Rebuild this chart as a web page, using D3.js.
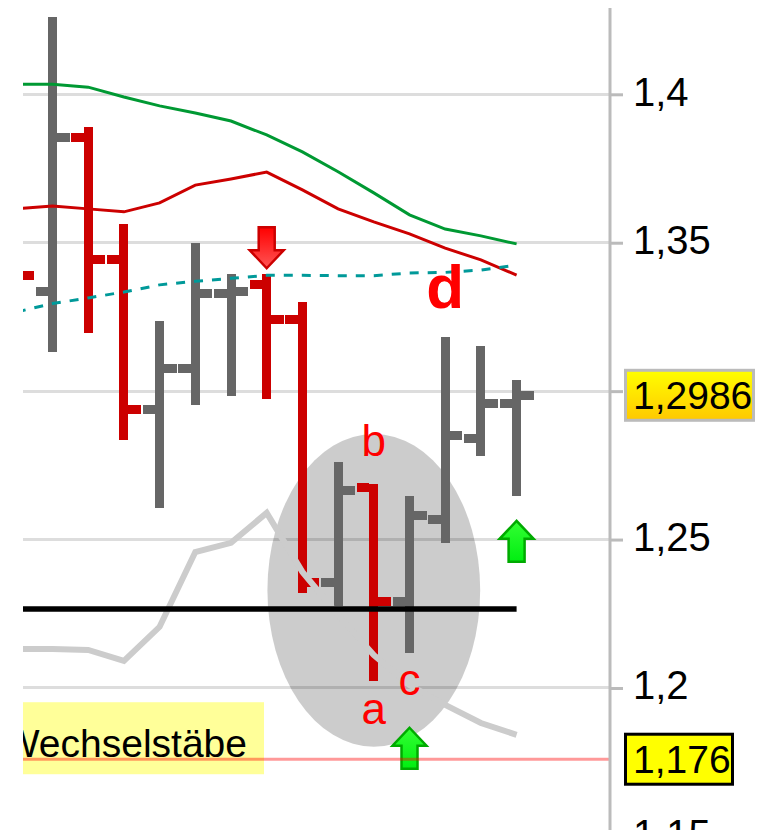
<!DOCTYPE html>
<html>
<head>
<meta charset="utf-8">
<script src="https://cdn.jsdelivr.net/npm/d3@7"></script>
<style>
    html, body { margin: 0; padding: 0; background: #fff; }
    svg { display: block; }
</style>
</head>
<body>
<div id="chart"></div>
<script>
// Bar index, the first bar is cut by the left edge of the plot
const days = d3.range(15)

// OHLC values of the daily bars
const open = [1.35, 1.3337, 1.3853, 1.3442, 1.2937, 1.3075, 1.3328, 1.3358, 1.324, 1.2357, 1.2674, 1.2293, 1.2569, 1.2842, 1.2957]
const high = [1.36, 1.426, 1.389, 1.3563, 1.3237, 1.3499, 1.3395, 1.3395, 1.33, 1.2761, 1.2687, 1.2647, 1.3182, 1.3152, 1.3037]
const low = [1.33, 1.3132, 1.3196, 1.2836, 1.2607, 1.2954, 1.2984, 1.2974, 1.232, 1.2276, 1.2024, 1.2118, 1.2488, 1.2781, 1.2647]
const close = [1.3391, 1.3853, 1.3442, 1.2937, 1.3075, 1.3328, 1.3337, 1.3243, 1.2357, 1.2664, 1.2293, 1.258, 1.2852, 1.2957, 1.2986]

// Indicator lines
const greenLine = [1.4034, 1.4034, 1.4024, 1.3991, 1.3961, 1.3937, 1.391, 1.3863, 1.3806, 1.3739, 1.3668, 1.3594, 1.3546, 1.3523, 1.3496]
const redLine = [1.3614, 1.3624, 1.3614, 1.3604, 1.3634, 1.3694, 1.3715, 1.3738, 1.3678, 1.3614, 1.357, 1.353, 1.3482, 1.3442, 1.3391]
const tealLine = [1.3267, 1.3295, 1.3314, 1.3334, 1.3358, 1.337, 1.338, 1.339, 1.339, 1.3389, 1.3389, 1.3398, 1.34, 1.3408, 1.3425]
const greyLine = [1.2131, 1.2131, 1.2128, 1.2091, 1.2206, 1.2458, 1.2489, 1.259, 1.2391, 1.2246, 1.2111, 1.201, 1.1943, 1.1882, 1.1842]

// Horizontal levels
const supportLevel = 1.2266
const markerLevel = 1.176
const markerName = 'Wechselstäbe'
const lastPrice = close[close.length - 1]

// Value axis ticks
const yTicks = [1.15, 1.2, 1.25, 1.3, 1.35, 1.4]

// Annotations: signal arrows and wave letters
const arrows = [
    { i: 7, value: 1.3414, dir: 'down' },
    { i: 11, value: 1.1866, dir: 'up' },
    { i: 14, value: 1.2563, dir: 'up' },
]
const letters = [
    { text: 'd', i: 12, value: 1.328, bold: true },
    { text: 'b', i: 10, value: 1.2782, bold: false },
    { text: 'c', i: 11, value: 1.1977, bold: false },
    { text: 'a', i: 10, value: 1.1879, bold: false },
]
// Grey ellipse round the a-b-c correction
const zone = { i: 10, value: 1.2329, halfBars: 2.98, halfValue: 0.0527 }

const config = {
    w: 761,
    h: 830,
    plot: { left: 23, right: 610, top: 8, bottom: 830 },
    barWidth: 9,
    tickLength: 12.5,
    font: '"Liberation Sans", Arial, sans-serif',
}

const svg = d3
    .select('#chart')
    .append('svg')
    .attr('width', config.w)
    .attr('height', config.h)

const x = d3.scaleLinear().domain([0, 14]).range([16.8, 516.6])
const y = d3.scaleLinear().domain([1.15, 1.4]).range([836.4, 94.3])

const locale = d3.formatLocale({ decimal: ',', thousands: '.', grouping: [3], currency: ['', ' €'] })
const priceFormat = locale.format('.4~f')
// tick labels under a price box are not shown
const tickFormat = (d) =>
    Math.abs(y(d) - y(lastPrice)) < 26 || Math.abs(y(d) - y(markerLevel)) < 26
        ? ''
        : locale.format('.2~f')(d)

// Gradients
const defs = svg.append('defs')
const gradient = (id, top, bottom) => {
    const g = defs
        .append('linearGradient')
        .attr('id', id)
        .attr('x1', 0)
        .attr('y1', 0)
        .attr('x2', 0)
        .attr('y2', 1)
    g.append('stop').attr('offset', '0%').attr('stop-color', top)
    g.append('stop').attr('offset', '100%').attr('stop-color', bottom)
}
gradient('price-fill', '#ffff00', '#ffc800')
gradient('red-arrow', '#ff5555', '#ff0000')
gradient('green-arrow', '#33ff33', '#00ee11')

defs.append('clipPath')
    .attr('id', 'plot-area')
    .append('rect')
    .attr('x', config.plot.left)
    .attr('y', config.plot.top)
    .attr('width', config.plot.right - config.plot.left)
    .attr('height', config.plot.bottom - config.plot.top)

const plot = svg.append('g').attr('clip-path', 'url(#plot-area)')

// Grid lines
plot.append('g')
    .selectAll('line')
    .data(yTicks)
    .join('line')
    .attr('x1', config.plot.left)
    .attr('x2', config.plot.right)
    .attr('y1', (d) => y(d))
    .attr('y2', (d) => y(d))
    .attr('stroke', '#dddddd')
    .attr('stroke-width', 3)
    .attr('shape-rendering', 'crispEdges')

// Correction zone
plot.append('ellipse')
    .attr('cx', x(zone.i))
    .attr('cy', y(zone.value))
    .attr('rx', x(zone.i + zone.halfBars) - x(zone.i))
    .attr('ry', y(zone.value - zone.halfValue) - y(zone.value))
    .attr('fill', '#000')
    .attr('fill-opacity', 0.2)

// Label box of the marker level
const markerY = y(markerLevel)
plot.append('rect')
    .attr('x', config.plot.left)
    .attr('y', markerY - 57)
    .attr('width', 264 - config.plot.left)
    .attr('height', 72)
    .attr('fill', '#ffff99')

plot.append('text')
    .attr('x', 247)
    .attr('y', markerY - 2)
    .attr('text-anchor', 'end')
    .style('font-family', config.font)
    .style('font-size', '39px')
    .attr('fill', '#000')
    .text(markerName)

// OHLC bars
const bars = days.map((d, k) => ({ i: d, open: open[k], high: high[k], low: low[k], close: close[k] }))
const half = config.barWidth / 2

const barGroups = plot
    .append('g')
    .attr('shape-rendering', 'crispEdges')
    .selectAll('g')
    .data(bars)
    .join('g')
    .attr('fill', (d) => (d.close >= d.open ? '#666666' : '#cc0000'))

barGroups
    .append('rect')
    .attr('x', (d) => x(d.i) - half)
    .attr('width', config.barWidth)
    .attr('y', (d) => y(d.high))
    .attr('height', (d) => y(d.low) - y(d.high))

barGroups
    .append('rect')
    .attr('x', (d) => x(d.i) - half - config.tickLength)
    .attr('width', config.tickLength)
    .attr('y', (d) => y(d.open) - half)
    .attr('height', config.barWidth)

barGroups
    .append('rect')
    .attr('x', (d) => x(d.i) + half)
    .attr('width', config.tickLength)
    .attr('y', (d) => y(d.close) - half)
    .attr('height', config.barWidth)

// Lines
const linePath = d3
    .line()
    .x((d, k) => x(days[k]))
    .y((d) => y(d))

plot.append('path')
    .datum(greyLine)
    .attr('d', linePath)
    .attr('fill', 'none')
    .attr('stroke', '#cccccc')
    .attr('stroke-width', 6)

plot.append('line')
    .attr('x1', x(days[0]))
    .attr('x2', x(days[days.length - 1]))
    .attr('y1', y(supportLevel))
    .attr('y2', y(supportLevel))
    .attr('stroke', '#000')
    .attr('stroke-width', 5.5)

plot.append('path')
    .datum(greenLine)
    .attr('d', linePath)
    .attr('fill', 'none')
    .attr('stroke', '#009933')
    .attr('stroke-width', 3)

plot.append('path')
    .datum(redLine)
    .attr('d', linePath)
    .attr('fill', 'none')
    .attr('stroke', '#cc0000')
    .attr('stroke-width', 3)

plot.append('path')
    .datum(tealLine)
    .attr('d', linePath)
    .attr('fill', 'none')
    .attr('stroke', '#009999')
    .attr('stroke-width', 3)
    .attr('stroke-dasharray', '9 9')

// Signal arrows, tip at (0, 0)
const arrowShape = 'M0,0 L17,18 L8,18 L8,41 L-8,41 L-8,18 L-17,18 Z'
plot.append('g')
    .selectAll('path')
    .data(arrows)
    .join('path')
    .attr('d', arrowShape)
    .attr('transform', (d) =>
        d.dir === 'up'
            ? `translate(${x(d.i)}, ${y(d.value)})`
            : `translate(${x(d.i)}, ${y(d.value)}) scale(1, -1)`
    )
    .attr('fill', (d) => (d.dir === 'up' ? 'url(#green-arrow)' : 'url(#red-arrow)'))
    .attr('stroke', (d) => (d.dir === 'up' ? '#00aa00' : '#cc0000'))
    .attr('stroke-width', 2.5)
    .attr('stroke-linejoin', 'miter')

// Wave letters
plot.append('g')
    .selectAll('text')
    .data(letters)
    .join('text')
    .attr('x', (d) => x(d.i))
    .attr('y', (d) => y(d.value))
    .attr('text-anchor', 'middle')
    .style('font-family', config.font)
    .style('font-size', (d) => (d.bold ? '62px' : '44px'))
    .style('font-weight', (d) => (d.bold ? 'bold' : 'normal'))
    .attr('fill', '#ff0000')
    .text((d) => d.text)

// Marker level line
plot.append('line')
    .attr('x1', config.plot.left)
    .attr('x2', config.plot.right)
    .attr('y1', markerY)
    .attr('y2', markerY)
    .attr('stroke', '#ff0000')
    .attr('stroke-opacity', 0.4)
    .attr('stroke-width', 3)

// Value axis on the right
const valueAxis = d3
    .axisRight(y)
    .tickValues(yTicks)
    .tickFormat(tickFormat)
    .tickSize(13)
    .tickPadding(10)

const axisG = svg
    .append('g')
    .attr('transform', `translate(${config.plot.right}, 0)`)
    .call(valueAxis)

axisG.select('.domain').remove()
axisG.selectAll('.tick line').attr('stroke', '#bbbbbb').attr('stroke-width', 3)
axisG
    .selectAll('.tick text')
    .attr('fill', '#000')
    .attr('dy', '0.27em')
    .style('font-family', config.font)
    .style('font-size', '40px')

axisG.append('line')
    .attr('x1', 0)
    .attr('x2', 0)
    .attr('y1', config.plot.top)
    .attr('y2', config.plot.bottom)
    .attr('stroke', '#bbbbbb')
    .attr('stroke-width', 3)

// Price boxes on the axis
const priceBox = (value, fill, border) => {
    const g = axisG.append('g').attr('transform', `translate(0, ${y(value)})`)
    g.append('rect')
        .attr('x', 15.5)
        .attr('y', -25)
        .attr('width', value === lastPrice ? 128 : 107)
        .attr('height', 50)
        .attr('fill', fill)
        .attr('stroke', border)
        .attr('stroke-width', 3)
    g.append('text')
        .attr('x', 23)
        .attr('dy', '0.36em')
        .attr('fill', '#000')
        .style('font-family', config.font)
        .style('font-size', '39px')
        .text(priceFormat(value))
}
priceBox(lastPrice, 'url(#price-fill)', '#bbbbbb')
priceBox(markerLevel, '#ffff00', '#000')
</script>
</body>
</html>
